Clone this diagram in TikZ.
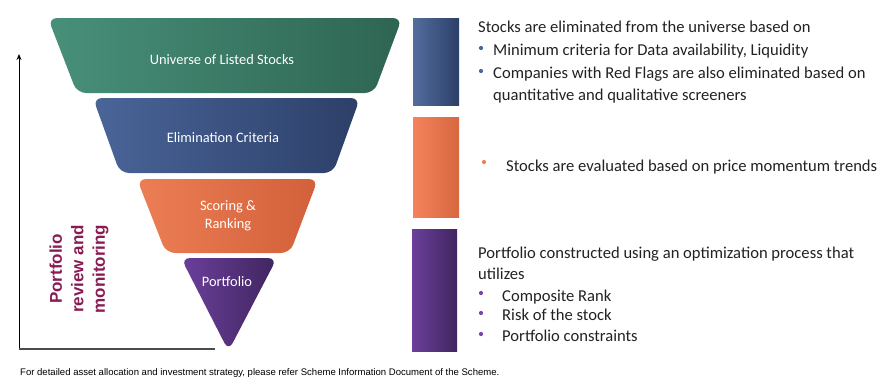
\documentclass[tikz,border=0pt]{standalone}
\usepackage{fontspec}
\setmainfont{Carlito}
\newfontfamily\arialf{Liberation Sans}
\usetikzlibrary{arrows.meta}
\definecolor{gL}{HTML}{48907A}
\definecolor{gR}{HTML}{2E6552}
\definecolor{bL}{HTML}{4A6599}
\definecolor{bR}{HTML}{2C3F68}
\definecolor{oL}{HTML}{EC7E55}
\definecolor{oR}{HTML}{D2603A}
\definecolor{obL}{HTML}{F5825A}
\definecolor{obR}{HTML}{D6673F}
\definecolor{pL}{HTML}{6B3F9B}
\definecolor{pR}{HTML}{40255F}
\definecolor{rev}{HTML}{8A1B52}
\definecolor{txt}{HTML}{222222}
\definecolor{bbul}{HTML}{4A6599}
\definecolor{obul}{HTML}{F08152}
\definecolor{pbul}{HTML}{7A45A8}
\tikzset{
  lab/.style={text=white,font=\fontsize{14.4}{17.5}\selectfont,align=center,inner sep=0pt},
  rt/.style={anchor=base west,text=txt,font=\fontsize{16.6}{20}\selectfont,inner sep=0pt},
  bul/.style={circle,inner sep=0pt,minimum size=4.2pt},
}
\begin{document}
\begin{tikzpicture}[x=1pt,y=-1pt]
\useasboundingbox (0,0) rectangle (893,384);
% funnel
\shade[left color=gL,right color=gR,rounded corners=9pt] (48,18) -- (402,18) -- (374,93) -- (77,93) -- cycle;
\shade[left color=bL,right color=bR,rounded corners=9pt] (93,98) -- (360,98) -- (333,173) -- (120,173) -- cycle;
\shade[left color=oL,right color=oR,rounded corners=9pt] (137,179) -- (318,179) -- (290,253) -- (166,253) -- cycle;
\shade[left color=pL,right color=pR,rounded corners=9pt] (181,258) -- (277,258) -- (228.5,351) -- cycle;
\node[lab] (u) at (222,60) {Universe of Listed Stocks};
\node[lab] (e) at (223,138) {Elimination Criteria};
\node[lab] (s) at (228,216) {Scoring \&\\Ranking};
\node[lab] (p) at (227,282) {Portfolio};
% axes
\coordinate (o) at (19,349);
\coordinate (top) at (19,54);
\coordinate (hx) at (215,349);
\draw[line width=1pt,-{Stealth[length=6pt,width=5pt]}] (o) -- (top);
\draw[line width=1.3pt,draw=black!70] (o) -- (hx);
\node[rotate=90,align=center,text=rev,font=\arialf\bfseries\fontsize{17}{21.5}\selectfont,inner sep=0pt] (rv) at (79,269) {Portfolio\\review and\\monitoring};
% bars
\shade[left color=bL!95!white,right color=bR] (413,18) rectangle (459,105);
\shade[left color=obL,right color=obR] (413,117) rectangle (459,217);
\shade[left color=pL,right color=pR] (412,229) rectangle (457,351);
% texts block 1
\node[rt] (t1) at (478,32) {Stocks are eliminated from the universe based on};
\node[bul,fill=bbul] (b1) at (481,48) {};
\node[rt] (t2) at (493,55) {Minimum criteria for Data availability, Liquidity};
\node[bul,fill=bbul] (b2) at (481,71) {};
\node[rt] (t3) at (493,78) {Companies with Red Flags are also eliminated based on};
\node[rt] (t4) at (493,100) {quantitative and qualitative screeners};
% block 2
\node[bul,fill=obul] (b3) at (484,162) {};
\node[rt] (t5) at (506,171) {Stocks are evaluated based on price momentum trends};
% block 3
\node[rt] (t6) at (478,258) {Portfolio constructed using an optimization process that};
\node[rt] (t7) at (478,279) {utilizes};
\node[bul,fill=pbul] (b4) at (481,293) {};
\node[rt] (t8) at (502,301) {Composite Rank};
\node[bul,fill=pbul] (b5) at (481,313) {};
\node[rt] (t9) at (502,320) {Risk of the stock};
\node[bul,fill=pbul] (b6) at (481,334) {};
\node[rt] (t10) at (502,341) {Portfolio constraints};
% footnote
\node[anchor=base west,inner sep=0pt,font=\arialf\fontsize{9.55}{11}\selectfont,text=black] (fn) at (20,375.5) {For detailed asset allocation and investment strategy, please refer Scheme Information Document of the Scheme.};
\end{tikzpicture}
\end{document}
